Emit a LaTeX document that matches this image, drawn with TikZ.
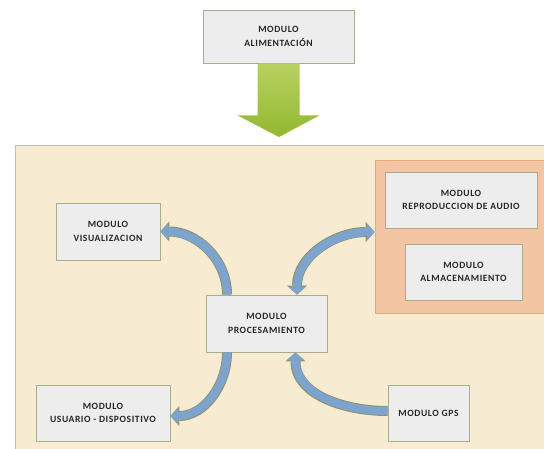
\documentclass[tikz,border=0pt]{standalone}
\usepackage{fontspec}
\setmainfont{Carlito}
\newfontfamily\modfont[LetterSpace=6, UprightFont=* Bold]{Carlito}
\usetikzlibrary{arrows.meta}
\usetikzlibrary{shadows}

\definecolor{fondo}{RGB}{247,236,210}
\definecolor{bordefondo}{RGB}{190,190,172}
\definecolor{naranja}{RGB}{243,197,163}
\definecolor{bordenaranja}{RGB}{232,168,124}
\definecolor{caja}{RGB}{237,237,237}
\definecolor{bordecaja}{RGB}{168,174,138}
\definecolor{azul}{RGB}{124,164,207}
\definecolor{bordeazul}{RGB}{138,150,112}
\definecolor{verdeclaro}{RGB}{184,208,96}
\definecolor{verdeoscuro}{RGB}{146,184,48}

\tikzset{
  modulo/.style={draw=bordecaja, fill=caja, line width=0.8pt, align=center,
    font=\modfont\fontsize{9.6}{13.3}\selectfont, text=black!85, inner sep=0pt,
    drop shadow={shadow xshift=1.2pt, shadow yshift=-1.2pt, opacity=0.3}},
  grupo/.style={draw=bordenaranja, fill=naranja, line width=0.8pt, inner sep=0pt,
    drop shadow={shadow xshift=1.2pt, shadow yshift=-1.2pt, opacity=0.25}},
  PuntaE/.tip={Triangle[length=9pt, width=20pt, line width=0pt]},
  PuntaI/.tip={Triangle[length=7.5pt, width=17pt, line width=0pt]},
  bordeflecha/.style={draw=bordeazul, line width=10pt},
  cuerpoflecha/.style={draw=azul, line width=8pt},
}

\begin{document}
\begin{tikzpicture}[x=1pt, y=1pt]
\useasboundingbox (0,0) rectangle (544,448);

% fondo general
\fill[fondo] (15,-5) rectangle (552,303);
\draw[bordefondo, line width=0.8pt] (15,-5) |- (552,303);

% modulos
\node[modulo, minimum width=151pt, minimum height=53pt] (alim) at (278.5,411.5) {MODULO\\ALIMENTACIÓN};
\node[grupo, minimum width=177pt, minimum height=153pt] (audiogrp) at (463.5,211.5) {};
\node[modulo, minimum width=152pt, minimum height=56pt] (audio) at (461,248) {MODULO\\REPRODUCCION DE AUDIO};
\node[modulo, minimum width=117pt, minimum height=56pt] (almac) at (463.5,176) {MODULO\\ALMACENAMIENTO};
\node[modulo, minimum width=104pt, minimum height=57pt] (visual) at (108,216.5) {MODULO\\VISUALIZACION};
\node[modulo, minimum width=121pt, minimum height=57pt] (proc) at (266.5,124.5) {MODULO\\PROCESAMIENTO};
\node[modulo, minimum width=134pt, minimum height=56pt] (usuario) at (103,35) {MODULO\\USUARIO - DISPOSITIVO};
\node[modulo, minimum width=81pt, minimum height=56pt] (gps) at (428.5,35) {MODULO GPS};

% flecha de alimentacion
\coordinate (tipalim) at (279,311);
\shade[top color=verdeclaro, bottom color=verdeoscuro]
  ([xshift=-21pt]alim.south) -- ++(0,-52) -- ++(-20,0) -- (tipalim)
  -- ([xshift=41pt,yshift=-52pt]alim.south) -- ++(-20,0) -- ([xshift=21pt]alim.south) -- cycle;

% puntos de union
\coordinate (pv) at ([xshift=-39.5pt]proc.north);
\coordinate (pa) at ([xshift=30.5pt]proc.north);
\coordinate (pu) at ([xshift=-39.5pt]proc.south);
\coordinate (pg) at ([xshift=29pt]proc.south);
\coordinate (ga) at ([yshift=4.5pt]audiogrp.west);
\coordinate (ue) at ([yshift=-3pt]usuario.east);
\coordinate (gw) at ([yshift=2pt]gps.west);

% flechas
\draw[bordeflecha, -PuntaE] (pv) to[out=90, in=0] (visual.east);
\draw[cuerpoflecha, -PuntaI] (pv) to[out=90, in=0] (visual.east);
\draw[bordeflecha, PuntaE-PuntaE] (pa) to[out=90, in=180] (ga);
\draw[cuerpoflecha, PuntaI-PuntaI] (pa) to[out=90, in=180] (ga);
\draw[bordeflecha, -PuntaE] (pu) to[out=-90, in=0] (ue);
\draw[cuerpoflecha, -PuntaI] (pu) to[out=-90, in=0] (ue);
\draw[bordeflecha, -PuntaE] (gw) to[out=180, in=-90] (pg);
\draw[cuerpoflecha, -PuntaI] (gw) to[out=180, in=-90] (pg);
\end{tikzpicture}
\end{document}
